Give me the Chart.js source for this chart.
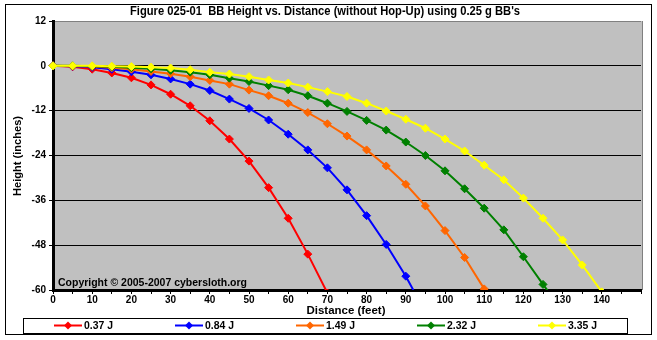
<!DOCTYPE html>
<html><head><meta charset="utf-8">
<script src="https://cdn.jsdelivr.net/npm/chart.js@4"></script>
<style>html,body{margin:0;padding:0;background:#fff;overflow:hidden}</style>
</head><body>
<canvas id="c" width="657" height="340"></canvas>
<script>
// ---- data ----
const distances = [0,5,10,15,20,25,30,35,40,45,50,55,60,65,70,75,80,85,90,95,100,105,110,115,120,125,130,135,140];
const seriesLabels = ['0.37 J','0.84 J','1.49 J','2.32 J','3.35 J'];
const seriesColors = ['#FF0000','#0000FF','#FF6600','#008000','#FFFF00'];
const height037 = [0,-0.25,-0.9,-1.9,-3.2,-5.1,-7.6,-10.7,-14.7,-19.6,-25.5,-32.6,-40.8,-50.4,-60.8];
const height084 = [0,-0.1,-0.4,-0.9,-1.6,-2.4,-3.5,-4.9,-6.6,-8.9,-11.4,-14.5,-18.3,-22.5,-27.3,-33.2,-40.1,-47.8,-56.3,-66];
const height149 = [0,-0.05,-0.2,-0.5,-0.9,-1.5,-2.1,-2.9,-3.9,-4.9,-6.5,-8.0,-10.0,-12.5,-15.5,-18.8,-22.5,-26.8,-31.7,-37.5,-44.1,-51.3,-59.7];
const height232 = [0,0,-0.1,-0.25,-0.5,-0.8,-1.2,-1.7,-2.4,-3.3,-4.2,-5.3,-6.4,-8.0,-10.0,-12.2,-14.6,-17.2,-20.4,-24.0,-28.1,-32.9,-38.1,-43.9,-51.1,-58.5,-65.5];
const height335 = [0,0,0,-0.1,-0.2,-0.35,-0.6,-1.05,-1.7,-2.2,-2.9,-3.8,-4.6,-5.7,-6.9,-8.2,-10.0,-12.1,-14.3,-16.7,-19.6,-22.8,-26.6,-30.5,-35.4,-40.8,-46.6,-53.3,-60.5];
const allHeights = [height037,height084,height149,height232,height335];
const xLabelValues = [0,10,20,30,40,50,60,70,80,90,100,110,120,130,140];
const yTickValues = [12,0,-12,-24,-36,-48,-60];

const titleText = "Figure 025-01  BB Height vs. Distance (without Hop-Up) using 0.25 g BB's";
const xTitle = 'Distance (feet)';
const yTitle = 'Height (inches)';
const copyrightText = 'Copyright \u00A9 2005-2007 cybersloth.org';

const FONT = '"Liberation Sans", Arial, sans-serif';

function fitText(ctx, text, x, y, target, font, align) {
  ctx.save();
  ctx.font = font;
  const w = ctx.measureText(text).width;
  const s = target / w;
  ctx.translate(x, y);
  ctx.scale(s, 1);
  ctx.textAlign = align || 'center';
  ctx.textBaseline = 'middle';
  ctx.fillStyle = '#000';
  ctx.fillText(text, 0, 0);
  ctx.restore();
}

const decor = {
  id: 'decor',
  beforeDraw(chart) {
    const ctx = chart.ctx, a = chart.chartArea;
    ctx.save();
    ctx.fillStyle = '#fff';
    ctx.fillRect(0, 0, chart.width, chart.height);
    ctx.fillStyle = '#C0C0C0';
    ctx.fillRect(a.left, a.top, a.right - a.left + 1, a.bottom - a.top);
    ctx.strokeStyle = '#808080';
    ctx.lineWidth = 1;
    ctx.beginPath();
    ctx.moveTo(a.right + 1.5, a.top);
    ctx.lineTo(a.right + 1.5, a.bottom);
    ctx.stroke();
    ctx.restore();
  },
  afterDraw(chart) {
    const ctx = chart.ctx;
    ctx.save();
    // outer frame
    ctx.strokeStyle = '#000';
    ctx.lineWidth = 1;
    ctx.strokeRect(5.5, 4.5, 646, 330);
    // title
    fitText(ctx, titleText, 325, 12, 390, 'bold 12px "Liberation Sans Narrow", ' + FONT);
    // axis titles
    fitText(ctx, xTitle, 346, 311, 79, 'bold 11.5px ' + FONT);
    ctx.save();
    ctx.translate(18, 156);
    ctx.rotate(-Math.PI / 2);
    fitText(ctx, yTitle, 0, 0, 80, 'bold 11.5px ' + FONT);
    ctx.restore();
    // copyright
    fitText(ctx, copyrightText, 58, 283, 189, 'bold 11px ' + FONT, 'left');
    // legend
    ctx.strokeStyle = '#000';
    ctx.lineWidth = 1;
    ctx.strokeRect(23.5, 318.5, 604, 15);
    chart.data.datasets.forEach((ds, i) => {
      const x0 = 54 + i * 121, y = 325.5;
      ctx.strokeStyle = ds.borderColor;
      ctx.lineWidth = 2;
      ctx.beginPath();
      ctx.moveTo(x0, y); ctx.lineTo(x0 + 28, y);
      ctx.stroke();
      ctx.fillStyle = ds.borderColor;
      ctx.beginPath();
      ctx.moveTo(x0 + 14, y - 4); ctx.lineTo(x0 + 18, y); ctx.lineTo(x0 + 14, y + 4); ctx.lineTo(x0 + 10, y);
      ctx.closePath(); ctx.fill();
      fitText(ctx, ds.label, x0 + 30, 326, 29, 'bold 11px ' + FONT, 'left');
    });
    ctx.restore();
  }
};

const datasets = allHeights.map((h, i) => ({
  label: seriesLabels[i],
  data: h.map((v, j) => ({ x: distances[j], y: v })),
  borderColor: seriesColors[i],
  backgroundColor: seriesColors[i],
  borderWidth: 2,
  pointStyle: 'rectRot',
  pointRadius: 4,
  pointBorderWidth: 1,
  pointHoverRadius: 4,
  tension: 0,
  order: allHeights.length - 1 - i,
  clip: { left: 6, right: 6, top: 6, bottom: 0 }
}));

new Chart(document.getElementById('c'), {
  type: 'line',
  data: { datasets },
  plugins: [decor],
  options: {
    responsive: false,
    animation: false,
    devicePixelRatio: 1,
    layout: { padding: { left: 0, top: 21, right: 16, bottom: 0 } },
    plugins: { legend: { display: false }, title: { display: false }, tooltip: { enabled: false } },
    scales: {
      x: {
        type: 'linear', min: 0, max: 150,
        afterFit: s => { s.height = 50; },
        ticks: {
          stepSize: 5, autoSkip: false, maxRotation: 0, padding: 0,
          color: '#000', font: { family: FONT, size: 10, weight: 'bold' },
          callback: v => xLabelValues.includes(v) ? String(v) : ''
        },
        grid: { drawOnChartArea: false, drawTicks: true, tickLength: 4, tickColor: '#000', color: '#000' },
        border: { display: true, color: '#000', width: 3 }
      },
      y: {
        min: -60, max: 12,
        afterFit: s => { s.width = 53; },
        afterBuildTicks: s => { s.ticks = yTickValues.map(v => ({ value: v })); },
        ticks: {
          padding: 3, color: '#000', font: { family: FONT, size: 10, weight: 'bold' },
          callback: v => String(v)
        },
        grid: {
          color: c => (c.tick && c.tick.value === 12) ? '#808080' : '#000',
          lineWidth: 1, drawTicks: true, tickLength: 4, tickColor: '#000'
        },
        border: { display: true, color: '#000', width: 3 }
      }
    }
  }
});
</script>
</body></html>
